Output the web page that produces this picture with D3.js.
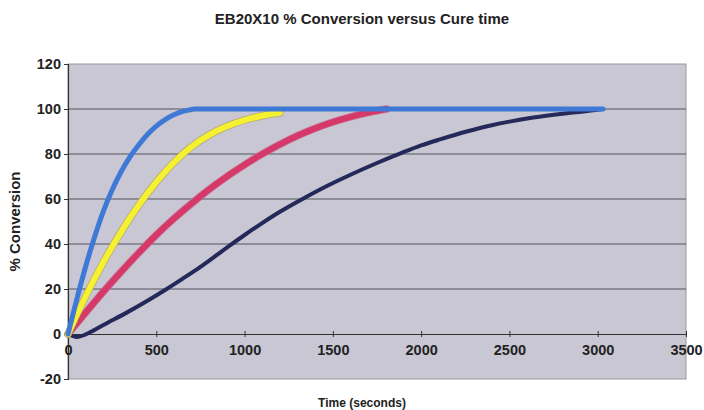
<!DOCTYPE html>
<html><head><meta charset="utf-8">
<script src="https://cdn.jsdelivr.net/npm/d3@7"></script>
<style>
body{margin:0;background:#fff;}
text{font-family:"Liberation Sans",Arial,sans-serif;font-weight:bold;fill:#222;}
</style></head>
<body><svg id="c" width="704" height="410"></svg>
<script>
const title = "EB20X10 % Conversion versus Cure time";
const xLabel = "Time (seconds)";
const yLabel = "% Conversion";
const xTicks = [0,500,1000,1500,2000,2500,3000,3500];
const yTicks = [-20,0,20,40,60,80,100,120];

const blueT = [0,50,100,150,200,250,300,350,400,450,500,550,600,650,700,720,3030];
const blueV = [0,15.5,30,43,54.5,64,72,78.6,84,88.7,92.4,95.3,97.4,98.9,99.8,100,100];
const yellowT = [0,100,200,300,400,500,600,700,800,900,1000,1100,1200];
const yellowV = [0,16.8,31.9,45.3,57.2,67.5,76.3,83.3,88.5,92.3,95.1,97,98.3];
const redT = [0,100,200,300,400,500,600,700,800,900,1000,1100,1200,1300,1400,1500,1600,1700,1805];
const redV = [0,9.5,18.8,27.6,36,44,51.3,58,64.3,70,75.2,80,84.3,88.1,91.4,94.2,96.5,98.4,100];
const navyT = [0,50,100,143,200,332,450,559,650,748,900,1000,1100,1200,1323,1472,1600,1750,1890,2000,2107,2258,2400,2500,2635,2800,2918,3030];
const navyV = [0,-1.3,-0.2,1.5,4,9.5,14.8,20,24.6,29.7,38.4,44,49.3,54.3,59.8,66,70.8,76,80.5,83.8,86.5,90,92.8,94.4,96.2,97.9,98.9,100];

const series = [
  {t:navyT, v:navyV, color:"#24295a", w:4},
  {t:redT, v:redV, color:"#d6386a", w:6, edge:"#c46a8a"},
  {t:yellowT, v:yellowV, color:"#f6f032", w:6, edge:"#a9a060"},
  {t:blueT, v:blueV, color:"#3f79d6", w:5}
];

const svg = d3.select("#c");
const L=68, R=686, T=64, B=379;
const x = d3.scaleLinear().domain([0,3500]).range([L,R]);
const y = d3.scaleLinear().domain([-20,120]).range([B,T]);
const fmt = d => String(d);

svg.append("rect").attr("x",L).attr("y",T).attr("width",R-L).attr("height",B-T)
  .attr("fill","#c8c7d3").attr("stroke","#9a9aa2").attr("stroke-width",1);

// gridlines
svg.append("g").selectAll("line").data(yTicks.filter(d=>d>0&&d<120)).join("line")
  .attr("x1",L).attr("x2",R).attr("y1",d=>y(d)).attr("y2",d=>y(d))
  .attr("stroke","#55555c").attr("stroke-width",1);

// y axis
const ya = svg.append("g").attr("transform",`translate(${L},0)`)
  .call(d3.axisLeft(y).tickValues(yTicks).tickFormat(fmt).tickSize(4).tickPadding(3));
ya.select(".domain").attr("stroke","#333").attr("stroke-width",1.2);
ya.selectAll(".tick line").attr("stroke","#333");
ya.selectAll("text").style("font-size","14.5px").attr("fill","#222");

// x axis at y=0
const xa = svg.append("g").attr("transform",`translate(0,${y(0)})`)
  .call(d3.axisBottom(x).tickValues(xTicks).tickFormat(fmt).tickSize(0).tickPadding(11));
xa.select(".domain").attr("stroke","#333").attr("stroke-width",1.2);
xa.selectAll("text").style("font-size","14.5px").attr("fill","#222");
xa.selectAll(".tick").append("line").attr("y1",-3).attr("y2",3).attr("stroke","#333");

// lines
const line = d3.line().x(d=>x(d[0])).y(d=>y(d[1])).curve(d3.curveMonotoneX);
series.forEach(s=>{
  const pts = s.t.map((t,i)=>[t,s.v[i]]);
  if (s.edge) svg.append("path").attr("d",line(pts)).attr("fill","none")
    .attr("stroke",s.edge).attr("stroke-width",s.w+1.5).attr("stroke-linecap","round").attr("opacity",0.8);
  svg.append("path").attr("d",line(pts)).attr("fill","none")
    .attr("stroke",s.color).attr("stroke-width",s.w).attr("stroke-linecap","round").attr("stroke-linejoin","round");
});

svg.append("text").attr("x",362).attr("y",24).attr("text-anchor","middle")
  .style("font-size","15px").text(title);
svg.append("text").attr("x",362).attr("y",407).attr("text-anchor","middle")
  .style("font-size","12px").text(xLabel);
svg.append("text").attr("transform",`translate(20,${(T+B)/2}) rotate(-90)`).attr("text-anchor","middle")
  .style("font-size","15px").text(yLabel);
</script></body></html>
